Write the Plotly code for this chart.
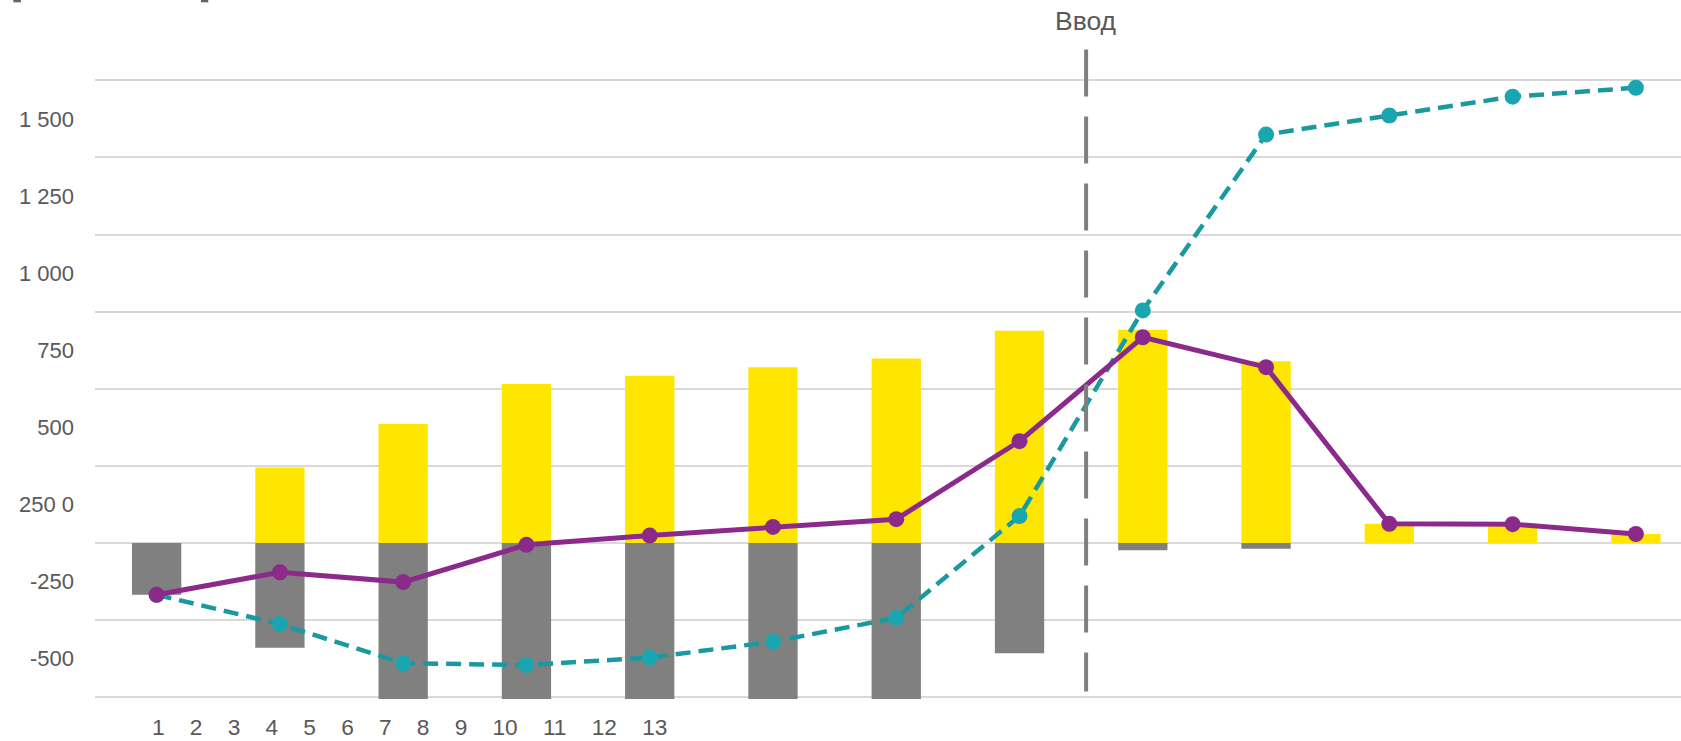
import plotly.graph_objects as go

# Periods
periods = list(range(1, 14))

# Inflows (yellow) and outflows (grey) per period
inflows = [0, 245, 386, 515, 542, 570, 598, 688, 691, 589, 62, 61, 29]
outflows = [-168, -340, -513, -521, -518, -518, -521, -358, -24, -19, 0, 0, 0]

# Net flow per period and running total
net_flow = [-168, -95, -127, -6, 24, 52, 77, 330, 667, 570, 62, 61, 29]
cumulative = [-168, -263, -390, -396, -372, -320, -243, 87, 754, 1324, 1386, 1447, 1476]

# Value-axis labels and where they sit
y_tick_text = ["-500", "-250", "250 0", "500", "750", "1 000", "1 250", "1 500"]
y_tick_vals = [-375, -125, 125, 375, 625, 875, 1125, 1375]

# Period labels printed under the axis as one text run
period_labels = [str(p) for p in periods]

# Commissioning marker
divider_x = 8.54
divider_label = "Ввод"

FONT = "Liberation Sans, Arial, sans-serif"
TEXT_GREY = "#595959"
YELLOW = "#FFE600"
GREY = "#808080"
PURPLE = "#8C2A8C"
TEAL_LINE = "#1A9AA0"
TEAL_MARK = "#1AA6B0"

fig = go.Figure()

fig.add_trace(go.Bar(x=periods, y=inflows, marker_color=YELLOW,
                     marker_line_width=0, width=0.4, name="inflow"))
fig.add_trace(go.Bar(x=periods, y=outflows, marker_color=GREY,
                     marker_line_width=0, width=0.4, name="outflow"))

fig.add_trace(go.Scatter(
    x=periods, y=cumulative, mode="lines+markers", name="cumulative",
    line=dict(color=TEAL_LINE, width=4.5, dash="15px,8px"),
    marker=dict(color=TEAL_MARK, size=16),
))
fig.add_trace(go.Scatter(
    x=periods, y=net_flow, mode="lines+markers", name="net",
    line=dict(color=PURPLE, width=5),
    marker=dict(color=PURPLE, size=16),
))

# Vertical dashed divider
fig.add_shape(type="line", xref="x", yref="y",
              x0=divider_x, x1=divider_x, y0=1600, y1=-482,
              line=dict(color="#7F7F7F", width=4, dash="47px,20px"))

fig.add_annotation(x=divider_x, xref="x", y=1, yref="paper",
                   text=divider_label, showarrow=False,
                   yanchor="middle", yshift=22,
                   font=dict(family=FONT, size=26.5, color=TEXT_GREY))

# Period numbers as a single spaced run starting under period 1
sep = "\u00a0" * 4
fig.add_annotation(x=periods[0], xref="x", y=0, yref="paper",
                   text=sep.join(period_labels), showarrow=False,
                   xanchor="left", yanchor="middle", xshift=-6.5, yshift=-28,
                   font=dict(family=FONT, size=22.7, color=TEXT_GREY))

# Small header bracket marks
for x0, x1 in [(-0.0515, -0.0467), (0.0668, 0.0714)]:
    fig.add_shape(type="rect", xref="paper", yref="paper",
                  x0=x0, x1=x1, y0=1.062, y1=1.07,
                  line_width=0, fillcolor="#666666")

fig.update_layout(
    width=1681, height=741,
    margin=dict(l=95, r=0, t=43, b=42),
    plot_bgcolor="white", paper_bgcolor="white",
    barmode="relative",
    showlegend=False,
    font=dict(family=FONT, color=TEXT_GREY),
    xaxis=dict(range=[0.5, 13.366], showticklabels=False, showgrid=False,
               zeroline=False, showline=False, ticks=""),
    yaxis=dict(range=[-506, 1621], tickmode="array",
               tickvals=y_tick_vals, ticktext=y_tick_text,
               showgrid=False, zeroline=False, showline=False, ticks="",
               ticklabelstandoff=20,
               tickfont=dict(family=FONT, size=22, color=TEXT_GREY),
               minor=dict(dtick=250, tick0=0, showgrid=True,
                          gridcolor="#D9D9D9", gridwidth=2, ticks="")),
)

fig.write_html("out.html")
